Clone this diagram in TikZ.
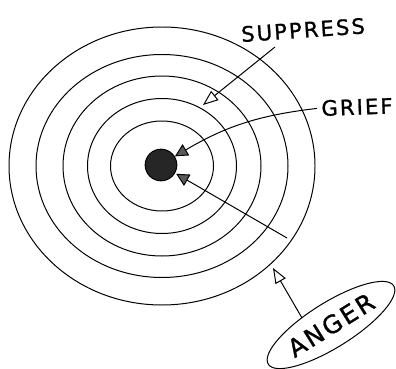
\documentclass[tikz,border=0pt]{standalone}
\usepackage{fontspec}
\newfontfamily\handfont[FakeBold=1.2,LetterSpace=10]{DejaVu Sans}
\usetikzlibrary{arrows.meta,shapes.geometric}

\begin{document}
\begin{tikzpicture}[x=0.03cm,y=-0.03cm,line width=0.85pt,
  word/.style={font=\handfont\fontsize{18}{18}\selectfont},
  openhead/.style={-{Triangle[open,length=13pt,width=10pt]}},
  hatchhead/.style={-{Triangle[fill=black!65,length=11pt,width=11pt]}}]
\useasboundingbox (0,0) rectangle (396,369);
% Target rings
\foreach \rx/\ry in {153/139,126/111.5,99/90,74.5/67.5,51.5/45}
  \draw (162,166) ellipse [x radius=\rx, y radius=\ry];
\node[circle,draw,fill=black!85,inner sep=0pt,minimum size=0.95cm] (core) at (161,165) {};
% Labels
\node[word,rotate=4] (suppress) at (303,30) {SUPPRESS};
\node[word,rotate=2] (grief) at (357,107) {GRIEF};
\node[draw,ellipse,rotate=32,minimum width=4.1cm,minimum height=1.35cm,
  font=\handfont\fontsize{21}{21}\selectfont] (anger) at (331,325) {ANGER};
% Arrows
\coordinate (s0) at (275,47);
\coordinate (s1) at (203,105);
\draw[openhead] (s0) -- (s1);
\draw[hatchhead] (grief.west) to[bend right=12] (core);
\coordinate (l0) at (287,238);
\draw[hatchhead,shorten >=1pt] (l0) -- (core);
\coordinate (a0) at (302,318);
\coordinate (a1) at (273,268);
\draw[openhead] (a0) -- (a1);
\end{tikzpicture}
\end{document}
